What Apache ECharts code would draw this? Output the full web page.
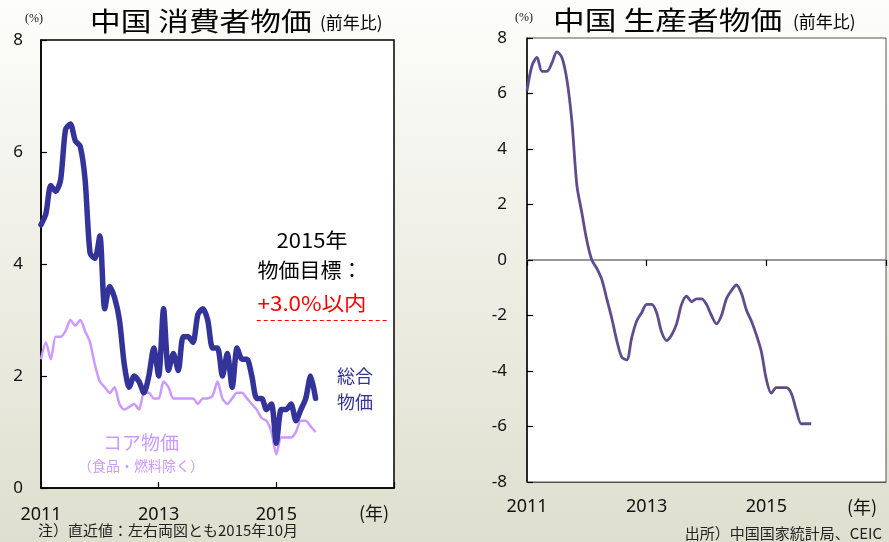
<!DOCTYPE html>
<html><head><meta charset="utf-8">
<script src="https://cdn.jsdelivr.net/npm/echarts@6/dist/echarts.min.js"></script>
<style>html,body{margin:0;padding:0;}#c{width:889px;height:542px;}</style>
</head><body><div id="c"></div>
<script>
// ---- data (monthly, year-on-year %, starting Jan 2011) ----
const startYear = 2011;
const monthsShown = 72; // Jan 2011 .. Jan 2017
const yearStep = 24;    // tick every two years
const cpiTotal = [
  4.7, 4.9, 5.4, 5.3, 5.5, 6.4, 6.5, 6.2, 6.1, 5.5, 4.2, 4.1,
  4.5, 3.2, 3.6, 3.4, 3.0, 2.2, 1.8, 2.0, 1.9, 1.7, 2.0, 2.5,
  2.0, 3.2, 2.1, 2.4, 2.1, 2.7, 2.7, 2.6, 3.1, 3.2, 3.0, 2.5,
  2.5, 2.0, 2.4, 1.8, 2.5, 2.3, 2.3, 2.0, 1.6, 1.6, 1.4, 1.5,
  0.8, 1.4, 1.4, 1.5, 1.2, 1.4, 1.6, 2.0, 1.6
];
const cpiCore = [
  2.3, 2.6, 2.3, 2.7, 2.7, 2.8, 3.0, 2.9, 3.0, 2.8, 2.6, 2.2,
  1.9, 1.8, 1.7, 1.8, 1.5, 1.4, 1.45, 1.5, 1.4, 1.7, 1.7, 1.6,
  1.6, 1.9, 1.8, 1.6, 1.6, 1.6, 1.6, 1.6, 1.5, 1.6, 1.6, 1.65,
  1.9, 1.6, 1.5, 1.6, 1.7, 1.7, 1.6, 1.5, 1.4, 1.25, 1.2, 1.0,
  0.6, 0.9, 0.9, 0.9, 1.0, 1.2, 1.2, 1.1, 1.0
];
const ppi = [
  6.1, 7.0, 7.3, 6.8, 6.8, 7.1, 7.5, 7.3, 6.5, 5.0, 2.7, 1.7,
  0.7, 0.0, -0.3, -0.7, -1.4, -2.1, -2.9, -3.5, -3.6, -2.8, -2.2, -1.9,
  -1.6, -1.6, -1.9, -2.6, -2.9, -2.7, -2.3, -1.6, -1.3, -1.5, -1.4, -1.4,
  -1.6, -2.0, -2.3, -2.0, -1.4, -1.1, -0.9, -1.2, -1.8, -2.2, -2.7, -3.3,
  -4.3, -4.8, -4.6, -4.6, -4.6, -4.8, -5.4, -5.9, -5.9, -5.9
];
const cpiTarget = 3.0;
const targetFromMonth = 44;
const targetToMonth = 70.5;

const toPairs = arr => arr.map((v, i) => [i, v]);
const yearLabel = v => (v < monthsShown ? String(startYear + v / 12) : '');

const NUM_FONT = '"Noto Sans", "Noto Sans CJK JP", sans-serif';
const JP_FONT = '"Noto Sans CJK JP", "Noto Sans", sans-serif';
const SERIF = '"Liberation Serif", "DejaVu Serif", serif';

const chart = echarts.init(document.getElementById('c'), null, {renderer: 'canvas'});

function txt(x, y, text, size, color, opts) {
  opts = opts || {};
  return {
    type: 'text', x: x, y: y, scaleX: opts.scaleX || 1, z: 100,
    style: {
      text: text, fontSize: size, fill: color,
      fontFamily: opts.font || JP_FONT,
      fontWeight: opts.weight || 'normal',
      textAlign: opts.align || 'left', textVerticalAlign: 'middle'
    }
  };
}

const option = {
  animation: false,
  backgroundColor: {
    type: 'linear', x: 0, y: 0, x2: 0, y2: 1,
    colorStops: [{offset: 0, color: '#fdfdfb'}, {offset: 1, color: '#dfdfcf'}]
  },
  grid: [
    {left: 41, top: 40, width: 353, height: 448, show: true,
     backgroundColor: '#ffffff', borderColor: '#000', borderWidth: 1.5},
    {left: 527, top: 38, width: 366, height: 444, show: true,
     backgroundColor: '#ffffff', borderColor: '#555', borderWidth: 1}
  ],
  xAxis: [
    {type: 'value', gridIndex: 0, min: 0, max: monthsShown, interval: yearStep,
     axisLine: {show: true, onZero: false, lineStyle: {color: '#000', width: 1.5}},
     axisTick: {show: true, inside: true, length: 6, lineStyle: {color: '#000', width: 1.2}},
     axisLabel: {formatter: yearLabel, fontSize: 18, color: '#111', margin: 18, fontFamily: NUM_FONT},
     splitLine: {show: false}},
    {type: 'value', gridIndex: 1, min: 0, max: monthsShown, interval: yearStep,
     axisLine: {show: true, onZero: false, lineStyle: {color: '#555', width: 1}},
     axisTick: {show: false},
     axisLabel: {formatter: yearLabel, fontSize: 18, color: '#111', margin: 16, fontFamily: NUM_FONT},
     splitLine: {show: false}},
    {type: 'value', gridIndex: 1, min: 0, max: monthsShown, interval: yearStep,
     axisLine: {show: true, onZero: true, lineStyle: {color: '#777', width: 1.5}},
     axisTick: {show: true, inside: true, length: 6, lineStyle: {color: '#000', width: 1.2}},
     axisLabel: {show: false},
     splitLine: {show: false}}
  ],
  yAxis: [
    {type: 'value', gridIndex: 0, min: 0, max: 8, interval: 2,
     axisLine: {show: true, lineStyle: {color: '#000', width: 1.5}},
     axisTick: {show: true, inside: true, length: 6, lineStyle: {color: '#000', width: 1.2}},
     axisLabel: {fontSize: 17, color: '#111', margin: 18, fontFamily: NUM_FONT},
     splitLine: {show: false}},
    {type: 'value', gridIndex: 1, min: -8, max: 8, interval: 2,
     axisLine: {show: true, onZero: false, lineStyle: {color: '#000', width: 1.5}},
     axisTick: {show: true, inside: true, length: 6, lineStyle: {color: '#000', width: 1.2}},
     axisLabel: {fontSize: 17, color: '#111', margin: 20, fontFamily: NUM_FONT},
     splitLine: {show: false}}
  ],
  series: [
    {name: 'コア物価', type: 'line', xAxisIndex: 0, yAxisIndex: 0, data: toPairs(cpiCore),
     showSymbol: false, smooth: 0.25, z: 2,
     lineStyle: {color: '#cc99ff', width: 2.5}},
    {name: '総合物価', type: 'line', xAxisIndex: 0, yAxisIndex: 0, data: toPairs(cpiTotal),
     showSymbol: false, smooth: 0.25, z: 3,
     lineStyle: {color: '#333399', width: 5.5, cap: 'round', join: 'round'},
     markLine: {symbol: 'none', silent: true, label: {show: false},
       lineStyle: {color: '#ff0000', type: [4, 3], width: 1},
       data: [[{coord: [targetFromMonth, cpiTarget]}, {coord: [targetToMonth, cpiTarget]}]]}},
    {name: '生産者物価', type: 'line', xAxisIndex: 1, yAxisIndex: 1, data: toPairs(ppi),
     showSymbol: false, smooth: 0.3, z: 3,
     lineStyle: {color: '#5e4c8c', width: 2.8}}
  ],
  graphic: [
    txt(25, 19, '(%)', 12, '#111', {font: SERIF}),
    txt(90, 21, '中国 消費者物価', 26, '#000', {scaleX: 1.18}),
    txt(320, 23, '(前年比)', 17, '#000'),
    txt(515, 18, '(%)', 12, '#111', {font: SERIF}),
    txt(553, 20, '中国 生産者物価', 26, '#000', {scaleX: 1.22}),
    txt(793, 22, '(前年比)', 17, '#000'),
    txt(312, 240, '2015年', 20, '#000', {align: 'center', scaleX: 1.1}),
    txt(310, 270, '物価目標：', 20, '#000', {align: 'center', scaleX: 1.05}),
    txt(312, 303, '+3.0%以内', 20, '#ff0000', {align: 'center', scaleX: 1.12}),
    txt(355, 376, '総合', 18, '#333399', {align: 'center'}),
    txt(355, 402, '物価', 18, '#333399', {align: 'center'}),
    txt(141, 443, 'コア物価', 19, '#cc99ff', {align: 'center'}),
    txt(141, 466, '（食品・燃料除く）', 14, '#cc99ff', {align: 'center'}),
    txt(374, 513, '(年)', 18, '#111', {align: 'center'}),
    txt(862, 507, '(年)', 18, '#111', {align: 'center'}),
    txt(38, 530, '注）直近値：左右両図とも2015年10月', 15, '#222'),
    txt(882, 533, '出所）中国国家統計局、CEIC', 15, '#222', {align: 'right'})
  ]
};
chart.setOption(option);
</script>
</body></html>
